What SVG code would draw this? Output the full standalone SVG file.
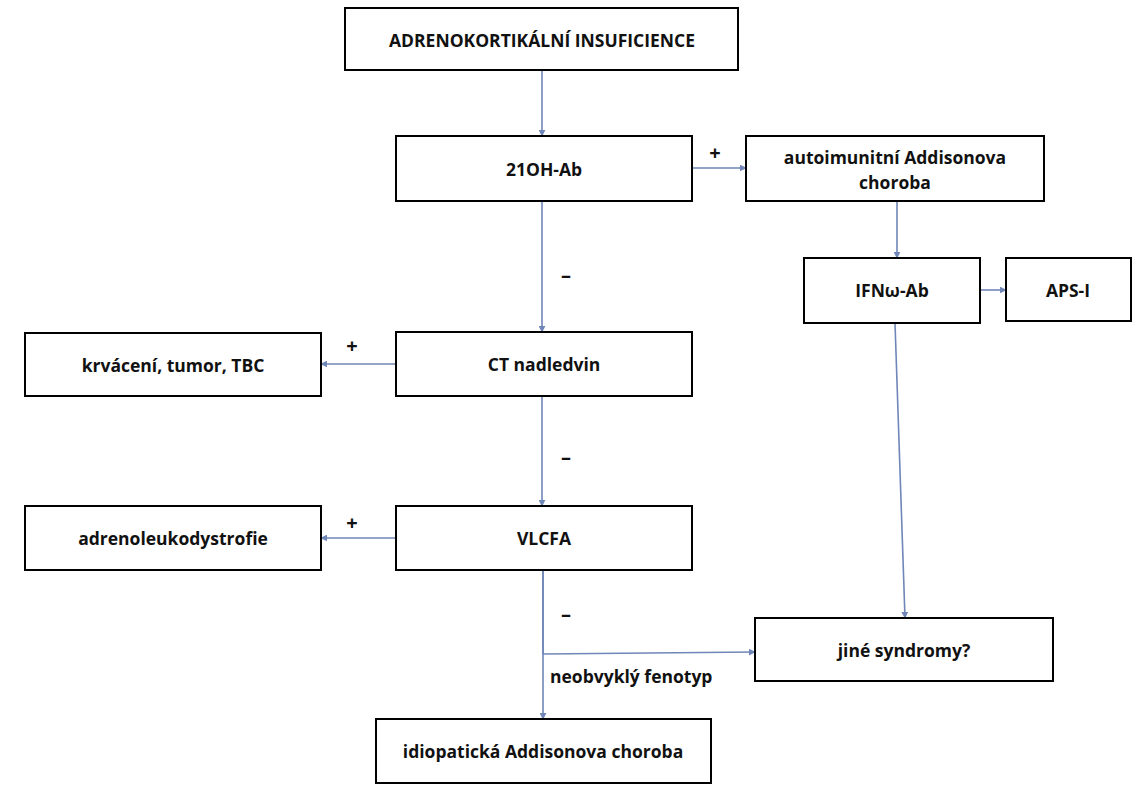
<svg xmlns="http://www.w3.org/2000/svg" width="1141" height="800" viewBox="0 0 1141 800">
<style>
rect{fill:#fff;stroke:#000;stroke-width:2}
text{font-family:"Open Sans","Liberation Sans",sans-serif;font-size:17.5px;font-weight:bold;fill:#111;text-anchor:middle;dominant-baseline:central}
.c line{stroke:#6f86b8;stroke-width:1.6;marker-end:url(#a)}
.c line.n{marker-end:none}
.l{text-anchor:start}
.s{font-size:20px}
</style>
<defs><marker id="a" viewBox="0 0 10 10" refX="9" refY="5" markerWidth="7" markerHeight="7" orient="auto" markerUnits="userSpaceOnUse"><path d="M0,0L10,5L0,10z" fill="#6f86b8"/></marker></defs>
<rect width="1141" height="800" style="stroke:none"/>
<g class="c">
<line x1="542" y1="70" x2="542" y2="136"/>
<line x1="692" y1="168" x2="746" y2="168"/>
<line x1="897" y1="201" x2="897" y2="258"/>
<line x1="980" y1="290" x2="1006" y2="290"/>
<line x1="542" y1="201" x2="542" y2="332"/>
<line x1="396" y1="364" x2="321" y2="364"/>
<line x1="542" y1="396" x2="542" y2="506"/>
<line x1="396" y1="538" x2="321" y2="538"/>
<line x1="895" y1="323" x2="905" y2="618"/>
<line class="n" x1="543" y1="570" x2="543" y2="654"/>
<line x1="543" y1="654" x2="755" y2="652"/>
<line x1="543" y1="570" x2="543" y2="719"/>
<text class="s" x="715" y="152">+</text>
<text class="s" x="352" y="345">+</text>
<text class="s" x="352" y="522">+</text>
<text class="s" x="566" y="274">–</text>
<text class="s" x="566" y="456">–</text>
<text class="s" x="566" y="613">–</text>
<text class="l" x="550" y="676">neobvyklý fenotyp</text>
</g>
<g id="n1"><rect x="345" y="8" width="393" height="62"/><text x="542" y="40">ADRENOKORTIKÁLNÍ INSUFICIENCE</text></g>
<g id="n2"><rect x="396" y="136" width="296" height="65"/><text x="544" y="169">21OH-Ab</text></g>
<g id="n3"><rect x="746" y="136" width="298" height="65"/><text x="895" y="157">autoimunitní Addisonova</text><text x="895" y="182">choroba</text></g>
<g id="n4"><rect x="804" y="258" width="176" height="65"/><text x="892" y="290">IFNω-Ab</text></g>
<g id="n5"><rect x="1006" y="258" width="125" height="63"/><text x="1068" y="290">APS-I</text></g>
<g id="n6"><rect x="396" y="332" width="296" height="64"/><text x="544" y="364">CT nadledvin</text></g>
<g id="n7"><rect x="25" y="333" width="296" height="63"/><text x="173" y="365">krvácení, tumor, TBC</text></g>
<g id="n8"><rect x="396" y="506" width="296" height="64"/><text x="544" y="538">VLCFA</text></g>
<g id="n9"><rect x="25" y="506" width="296" height="64"/><text x="173" y="538">adrenoleukodystrofie</text></g>
<g id="n10"><rect x="755" y="618" width="298" height="63"/><text x="904" y="650">jiné syndromy?</text></g>
<g id="n11"><rect x="376" y="719" width="335" height="64"/><text x="543" y="751">idiopatická Addisonova choroba</text></g>
</svg>
